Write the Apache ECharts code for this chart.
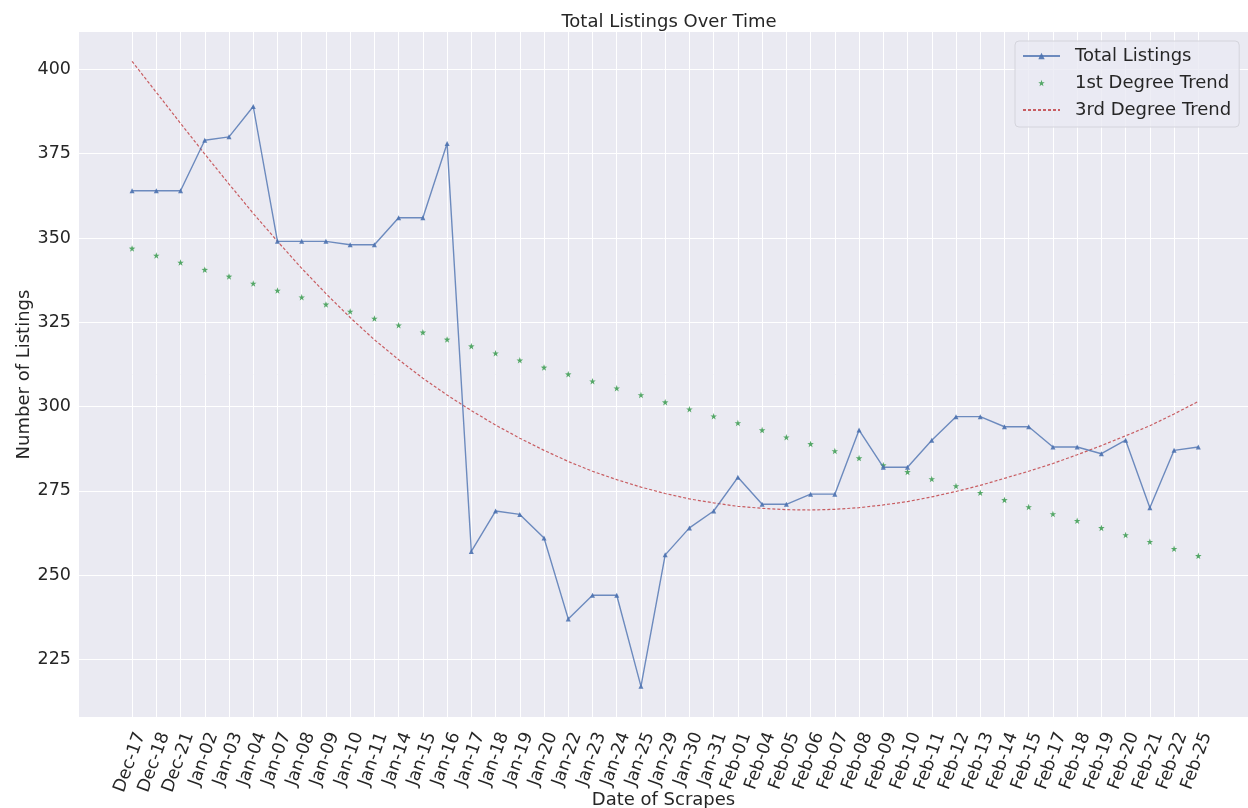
<!DOCTYPE html>
<html>
<head>
<meta charset="utf-8">
<title>Total Listings Over Time</title>
<script src="https://cdn.jsdelivr.net/npm/echarts@6/dist/echarts.min.js"></script>
<style>
  html, body { margin: 0; padding: 0; background: #ffffff; }
  #chart { width: 1248px; height: 808px; }
</style>
</head>
<body>
<div id="chart"></div>
<script>
  // dates of the scrapes (x axis)
  var dates = ['Dec-17', 'Dec-18', 'Dec-21', 'Jan-02', 'Jan-03', 'Jan-04', 'Jan-07', 'Jan-08', 'Jan-09',
    'Jan-10', 'Jan-11', 'Jan-14', 'Jan-15', 'Jan-16', 'Jan-17', 'Jan-18', 'Jan-19', 'Jan-20', 'Jan-22',
    'Jan-23', 'Jan-24', 'Jan-25', 'Jan-29', 'Jan-30', 'Jan-31', 'Feb-01', 'Feb-04', 'Feb-05', 'Feb-06',
    'Feb-07', 'Feb-08', 'Feb-09', 'Feb-10', 'Feb-11', 'Feb-12', 'Feb-13', 'Feb-14', 'Feb-15', 'Feb-17',
    'Feb-18', 'Feb-19', 'Feb-20', 'Feb-21', 'Feb-22', 'Feb-25'];

  // number of listings for each scrape
  var totalListings = [364, 364, 364, 379, 380, 389, 349, 349, 349, 348, 348, 356, 356, 378, 257,
    269, 268, 261, 237, 244, 244, 217, 256, 264, 269, 279, 271, 271, 274, 274, 293, 282, 282,
    290, 297, 297, 294, 294, 288, 288, 286, 290, 270, 287, 288];

  // 1st degree trend
  var trendLinear = [346.9, 344.8, 342.7, 340.6, 338.6, 336.5, 334.4, 332.4, 330.3, 328.2, 326.1,
    324.1, 322.0, 319.9, 317.9, 315.8, 313.7, 311.6, 309.6, 307.5, 305.4, 303.4, 301.3, 299.2,
    297.1, 295.1, 293.0, 290.9, 288.9, 286.8, 284.7, 282.6, 280.6, 278.5, 276.4, 274.4, 272.3,
    270.2, 268.1, 266.1, 264.0, 261.9, 259.9, 257.8, 255.7];

  // 3rd degree trend
  var trendCubic = [402.4, 393.2, 384.0, 374.9, 366.0, 357.3, 349.0, 341.0, 333.5, 326.4, 319.8,
    313.9, 308.4, 303.4, 298.8, 294.5, 290.6, 287.0, 283.7, 280.8, 278.3, 276.1, 274.2, 272.6,
    271.4, 270.4, 269.8, 269.4, 269.3, 269.5, 270.0, 270.8, 271.8, 273.2, 274.8, 276.6, 278.7,
    280.8, 283.1, 285.7, 288.4, 291.3, 294.3, 297.8, 301.5];

  var yTicks = [225, 250, 275, 300, 325, 350, 375, 400];

  var FONT = 'DejaVu Sans';
  var TEXT = '#262626';
  var STAR = 'path://M0,-10L2.35,-3.24L9.51,-3.09L3.8,1.24L5.88,8.09L0,4L-5.88,8.09L-3.8,1.24L-9.51,-3.09L-2.35,-3.24Z';

  var xIndex = dates.map(function (d, i) { return i; });

  function pairs(values) {
    return values.map(function (v, i) { return [i, v]; });
  }

  var chart = echarts.init(document.getElementById('chart'));

  chart.setOption({
    animation: false,
    textStyle: { fontFamily: FONT },
    title: {
      text: 'Total Listings Over Time',
      left: 664,
      textAlign: 'center',
      top: 8,
      textStyle: { fontFamily: FONT, fontSize: 18, fontWeight: 'normal', color: TEXT }
    },
    grid: {
      left: 79, right: 0, top: 32, bottom: 91,
      outerBoundsMode: 'none',
      containLabel: false,
      show: true,
      backgroundColor: '#eaeaf2',
      borderWidth: 0
    },
    legend: {
      orient: 'vertical',
      left: 1015,
      top: 41,
      padding: [5, 8, 7, 7],
      itemWidth: 37,
      itemHeight: 8,
      itemGap: 7,
      backgroundColor: 'rgba(234,234,242,0.8)',
      borderColor: '#d4d4dc',
      borderWidth: 1,
      borderRadius: 4,
      textStyle: { fontFamily: FONT, fontSize: 18, color: TEXT, lineHeight: 20, padding: [0, 0, 0, 10] },
      data: [
        { name: 'Total Listings' },
        { name: '1st Degree Trend', lineStyle: { opacity: 0 } },
        { name: '3rd Degree Trend', itemStyle: { opacity: 0 } }
      ]
    },
    xAxis: {
      type: 'value',
      min: -2.19,
      max: 46.05,
      name: 'Date of Scrapes',
      nameLocation: 'middle',
      nameGap: 74,
      nameMoveOverlap: false,
      nameTextStyle: { fontFamily: FONT, fontSize: 18, color: TEXT },
      axisLine: { show: false },
      axisTick: { show: false, customValues: xIndex },
      axisLabel: {
        customValues: xIndex,
        rotate: 70,
        margin: 13,
        verticalAlign: 'top',
        fontFamily: FONT,
        fontSize: 17.5,
        color: TEXT,
        formatter: function (v) { return dates[v]; }
      },
      splitLine: { show: true, lineStyle: { color: '#ffffff', width: 1 } }
    },
    yAxis: {
      type: 'value',
      min: 207.9,
      max: 411.1,
      name: 'Number of Listings',
      nameLocation: 'middle',
      nameGap: 46,
      nameMoveOverlap: false,
      nameTextStyle: { fontFamily: FONT, fontSize: 18, color: TEXT },
      axisLine: { show: false },
      axisTick: { show: false, customValues: yTicks },
      axisLabel: { customValues: yTicks, margin: 8, fontFamily: FONT, fontSize: 17.5, color: TEXT },
      splitLine: { show: true, lineStyle: { color: '#ffffff', width: 1 } }
    },
    series: [
      {
        name: 'Total Listings',
        type: 'line',
        data: pairs(totalListings),
        symbol: 'triangle',
        symbolSize: 5,
        color: '#4c72b0',
        lineStyle: { width: 1.4, opacity: 0.8 },
        itemStyle: { opacity: 0.9 },
        z: 3
      },
      {
        name: '1st Degree Trend',
        type: 'line',
        data: pairs(trendLinear),
        symbol: STAR,
        symbolSize: 6.5,
        color: '#55a868',
        lineStyle: { opacity: 0 },
        z: 2
      },
      {
        name: '3rd Degree Trend',
        type: 'line',
        data: pairs(trendCubic),
        symbol: 'none',
        color: '#c44e52',
        lineStyle: { width: 1.2, type: [3, 2], opacity: 0.9 },
        z: 2
      }
    ]
  });
</script>
</body>
</html>
